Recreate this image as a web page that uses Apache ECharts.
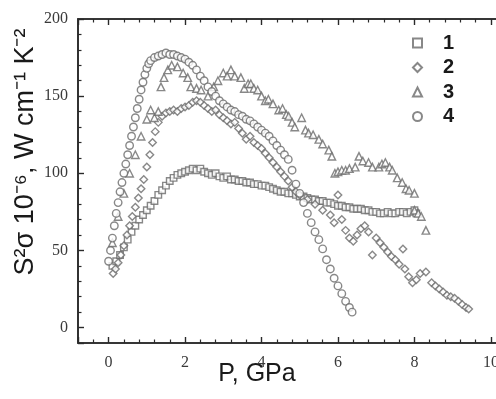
<!DOCTYPE html>
<html>
<head>
<meta charset="utf-8">
<script src="https://cdn.jsdelivr.net/npm/echarts@6/dist/echarts.min.js"></script>
<style>
html,body{margin:0;padding:0;background:#fff;}
#chart{width:496px;height:399px;}
</style>
</head>
<body>
<div id="chart"></div>
<script>
// Series names / legend labels
const seriesNames = ['1', '2', '3', '4'];
const xTickLabels = ['0', '2', '4', '6', '8', '10'];
const yTickLabels = ['0', '50', '100', '150', '200'];

// Series 1 (squares): [P, S^2 sigma]
const series1 = [[0.1,40],[0.2,43],[0.3,47],[0.4,52],[0.5,57],[0.6,62],[0.7,66],[0.8,70],[0.9,73],[1.0,76],[1.1,79],[1.2,82],[1.3,86],[1.4,89],[1.5,92],[1.6,95],[1.7,97],[1.8,99],[1.9,100],[2.0,101],[2.1,102],[2.2,103],[2.3,102],[2.4,103],[2.5,101],[2.6,100],[2.7,99],[2.8,100],[2.9,98],[3.0,97],[3.1,98],[3.2,96],[3.3,96],[3.4,95],[3.5,95],[3.6,94],[3.7,94],[3.8,93],[3.9,93],[4.0,92],[4.1,92],[4.2,91],[4.3,90],[4.4,89],[4.5,88],[4.6,88],[4.7,87],[4.8,87],[4.9,86],[5.0,85],[5.1,85],[5.2,84],[5.3,83],[5.4,83],[5.5,82],[5.6,82],[5.7,81],[5.8,81],[5.9,80],[6.0,79],[6.1,79],[6.2,78],[6.3,78],[6.4,77],[6.5,77],[6.6,77],[6.7,76],[6.8,76],[6.9,75],[7.0,75],[7.1,74],[7.2,74],[7.3,75],[7.4,74],[7.5,74],[7.6,75],[7.7,75],[7.8,74],[7.9,75],[8.0,76],[8.05,74]];

// Series 2 (diamonds)
const series2 = [[0.12,35],[0.18,38],[0.25,42],[0.32,47],[0.4,53],[0.48,60],[0.55,66],[0.62,72],[0.7,78],[0.78,84],[0.85,90],[0.92,96],[1.0,104],[1.08,112],[1.15,120],[1.22,127],[1.3,133],[1.4,137],[1.5,139],[1.6,140],[1.7,141],[1.8,140],[1.9,142],[2.0,143],[2.1,144],[2.2,146],[2.3,147],[2.4,146],[2.5,144],[2.6,142],[2.7,140],[2.8,141],[2.9,138],[3.0,136],[3.1,134],[3.2,132],[3.3,133],[3.4,129],[3.5,126],[3.6,122],[3.7,124],[3.8,120],[3.9,118],[4.0,116],[4.1,113],[4.2,110],[4.3,107],[4.4,104],[4.5,101],[4.6,98],[4.7,95],[4.8,91],[4.9,88],[5.0,86],[5.2,83],[5.4,80],[5.6,76],[5.8,73],[5.9,68],[6.0,86],[6.1,70],[6.2,63],[6.3,58],[6.4,56],[6.5,60],[6.6,64],[6.7,66],[6.8,62],[6.9,47],[7.0,58],[7.1,55],[7.2,52],[7.3,49],[7.4,46],[7.5,44],[7.6,41],[7.7,51],[7.75,38],[7.85,33],[7.95,29],[8.05,31],[8.15,35],[8.3,36],[8.45,29],[8.55,27],[8.65,25],[8.75,23],[8.85,21],[8.95,20],[9.05,19],[9.15,17],[9.25,15],[9.35,13],[9.42,12]];

// Series 3 (triangles)
const series3 = [[0.1,55],[0.25,72],[0.4,87],[0.55,100],[0.7,112],[0.85,124],[1.0,135],[1.1,141],[1.2,136],[1.3,140],[1.37,156],[1.45,162],[1.55,167],[1.65,170],[1.8,169],[1.95,165],[2.07,162],[2.15,156],[2.3,155],[2.42,154],[2.6,150],[2.75,156],[2.86,160],[3.0,165],[3.1,163],[3.2,167],[3.3,163],[3.46,162],[3.55,155],[3.65,158],[3.72,158],[3.8,155],[3.9,154],[4.0,150],[4.1,147],[4.18,148],[4.3,145],[4.45,141],[4.55,142],[4.65,138],[4.71,137],[4.8,133],[4.87,130],[5.05,136],[5.15,128],[5.23,126],[5.35,125],[5.5,122],[5.6,119],[5.76,115],[5.84,111],[5.92,100],[6.0,101],[6.1,102],[6.2,102],[6.3,103],[6.45,104],[6.55,111],[6.65,108],[6.8,107],[6.9,104],[7.07,104],[7.15,106],[7.24,107],[7.35,104],[7.42,102],[7.55,97],[7.68,94],[7.78,90],[7.86,89],[8.0,87],[8.0,76],[8.1,74],[8.18,72],[8.3,63]];

// Series 4 (circles)
const series4 = [[0,43],[0.05,50],[0.1,58],[0.15,66],[0.2,74],[0.25,81],[0.3,88],[0.35,94],[0.4,100],[0.45,106],[0.5,112],[0.55,118],[0.6,124],[0.65,130],[0.7,136],[0.75,142],[0.8,148],[0.85,154],[0.9,159],[0.95,164],[1.0,168],[1.05,171],[1.1,173],[1.2,175],[1.3,176],[1.4,177],[1.5,178],[1.6,177],[1.7,177],[1.8,176],[1.9,175],[2.0,174],[2.1,172],[2.2,170],[2.3,167],[2.4,163],[2.5,160],[2.6,156],[2.7,153],[2.8,150],[2.9,147],[3.0,145],[3.1,143],[3.2,141],[3.3,140],[3.4,138],[3.5,137],[3.6,135],[3.7,134],[3.8,132],[3.9,130],[4.0,128],[4.1,126],[4.2,124],[4.3,121],[4.4,118],[4.5,115],[4.6,112],[4.7,109],[4.8,102],[4.9,93],[5.0,87],[5.1,81],[5.2,74],[5.3,68],[5.4,62],[5.5,57],[5.6,51],[5.7,44],[5.8,38],[5.9,32],[6.0,27],[6.1,22],[6.2,17],[6.3,13],[6.37,10]];

const symbols = ['rect', 'diamond', 'triangle', 'circle'];
const sizes = [6.5, 7.5, 7.5, 7.5];
const allData = [series1, series2, series3, series4];

const chart = echarts.init(document.getElementById('chart'), null, {renderer: 'canvas'});
const axisColor = '#2a2a2a';
const markColor = '#6a6a6a';
const serif = '"Liberation Serif","DejaVu Serif",serif';
const sans = '"Liberation Sans",Arial,sans-serif';

const tickStyle = {show: true, inside: true, length: 6, lineStyle: {color: axisColor, width: 1.4}};
const minorStyle = {show: true, splitNumber: 5, length: 3.5, lineStyle: {color: axisColor, width: 1.2}};
const lineStyle = {show: true, onZero: false, lineStyle: {color: axisColor, width: 1.6}};

const xFmt = v => { const i = xTickLabels.indexOf(String(v)); return i >= 0 ? xTickLabels[i] : ''; };
const yFmt = v => { const i = yTickLabels.indexOf(String(v)); return i >= 0 ? yTickLabels[i] : ''; };

const option = {
  backgroundColor: '#fff',
  animation: false,
  grid: {left: 78, top: 19, width: 432, height: 324, containLabel: false, outerBoundsMode: 'none', show: true, borderColor: axisColor, borderWidth: 1.6, backgroundColor: 'transparent'},
  xAxis: [
    {type: 'value', gridIndex: 0, min: -0.8, max: 10.5, position: 'bottom',
      axisLine: lineStyle, axisTick: tickStyle, minorTick: minorStyle, splitLine: {show: false},
      axisLabel: {show: true, showMinLabel: false, showMaxLabel: false, margin: 12, fontFamily: serif, fontSize: 16, color: '#3a3a3a', formatter: xFmt}},
    {type: 'value', gridIndex: 0, min: -0.8, max: 10.5, position: 'top',
      axisLine: lineStyle, axisTick: tickStyle, minorTick: minorStyle, splitLine: {show: false},
      axisLabel: {show: false}}
  ],
  yAxis: [
    {type: 'value', gridIndex: 0, min: -10, max: 200, position: 'left',
      axisLine: lineStyle, axisTick: tickStyle, minorTick: minorStyle, splitLine: {show: false},
      axisLabel: {show: true, showMinLabel: false, showMaxLabel: true, margin: 10, fontFamily: serif, fontSize: 16, color: '#3a3a3a', formatter: yFmt}},
    {type: 'value', gridIndex: 0, min: -10, max: 200, position: 'right',
      axisLine: lineStyle, axisTick: tickStyle, minorTick: minorStyle, splitLine: {show: false},
      axisLabel: {show: false}}
  ],
  legend: {
    orient: 'vertical', left: 407, top: 28, itemWidth: 9, itemHeight: 9, itemGap: 4.5,
    textStyle: {fontFamily: sans, fontSize: 20, fontWeight: 'bold', color: '#1a1a1a', lineHeight: 20, padding: [0, 0, 0, 16]},
    data: seriesNames
  },
  series: seriesNames.map((n, i) => ({
    name: n, type: 'scatter', data: allData[i], symbol: symbols[i], symbolSize: sizes[i],
    itemStyle: {color: '#fff', borderColor: markColor, borderWidth: 1.4}
  })),
  graphic: [
    {type: 'text', x: 26, y: 152, rotation: Math.PI / 2, style: {text: 'S\u00B2\u03C3 10\u207B\u2076, W cm\u207B\u00B9 K\u207B\u00B2', font: '27px ' + sans, fill: '#1a1a1a', textAlign: 'center', textVerticalAlign: 'middle'}},
    {type: 'text', x: 257, y: 374, style: {text: 'P, GPa', font: '25px ' + sans, fill: '#1a1a1a', textAlign: 'center', textVerticalAlign: 'middle'}}
  ]
};
chart.setOption(option);
</script>
</body>
</html>
